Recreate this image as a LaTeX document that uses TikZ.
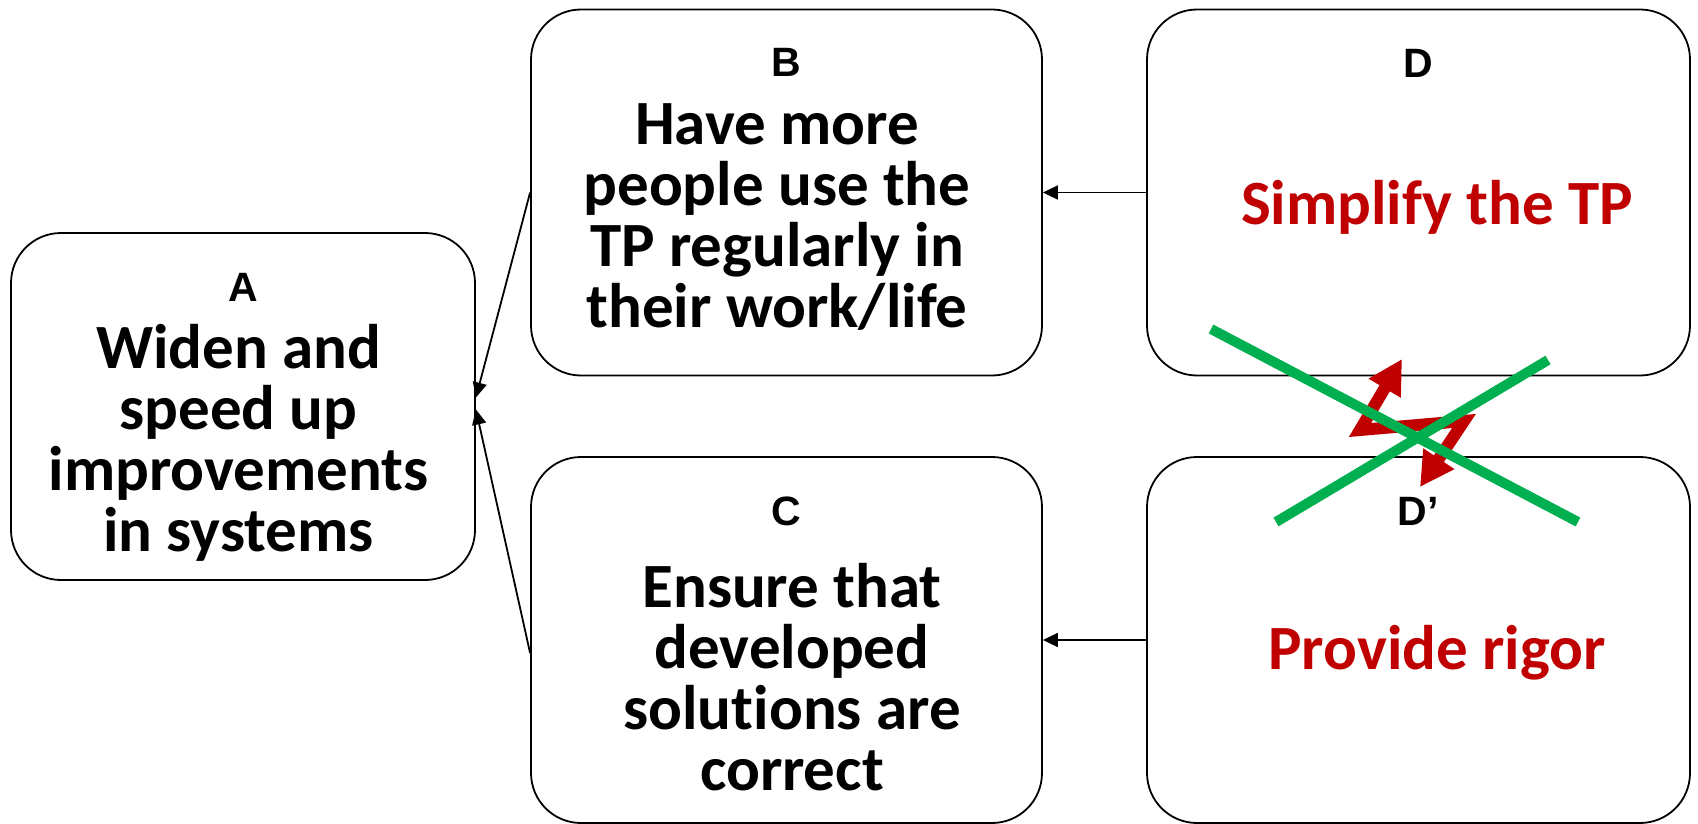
\documentclass[tikz,border=0pt]{standalone}
\usepackage{fontspec}
\setmainfont{Carlito}[Ligatures=NoCommon]
\newfontfamily\labelfont{Liberation Sans}
\usetikzlibrary{arrows.meta,calc}
\definecolor{conflictred}{HTML}{C00000}
\definecolor{crossgreen}{HTML}{00B050}
% invisible rule that fixes the height of the first line of a text block
\newcommand{\topstrut}{\rule{0pt}{50pt}}

\begin{document}
\begin{tikzpicture}[x=1pt,y=-1pt,
  box/.style={draw=black, line width=1.8pt, fill=white, rounded corners=50pt, inner sep=0pt},
  letter/.style={font=\labelfont\bfseries\fontsize{41}{41}\selectfont, anchor=base, inner sep=0pt},
  body/.style={font=\bfseries\fontsize{63}{61}\selectfont, align=center, anchor=north, inner sep=0pt},
  goal/.style={font=\bfseries\fontsize{63}{61}\selectfont, text=conflictred, anchor=base, inner sep=0pt},
  link/.style={line width=1.8pt, -{Triangle[length=15pt,width=14pt]}},
  conflict/.style={draw=conflictred, line width=12pt, line join=miter,
    {Triangle[length=34pt,width=35pt]}-{Triangle[length=34pt,width=35pt]}},
  cross/.style={draw=crossgreen, line width=10pt, line cap=butt}
]
\useasboundingbox (0,0) rectangle (1698,824);

% boxes
\node[box, minimum width=464pt, minimum height=347pt] (A)  at (243,406.5)  {};
\node[box, minimum width=511pt, minimum height=366pt] (B)  at (786.5,192.5) {};
\node[box, minimum width=511pt, minimum height=366pt] (C)  at (786.5,640)   {};
\node[box, minimum width=543pt, minimum height=366pt] (D)  at (1418.5,192.5) {};
\node[box, minimum width=543pt, minimum height=366pt] (Dp) at (1418.5,640)  {};

% box letters
\node[letter] (A-id)  at (243,301)  {A};
\node[letter] (B-id)  at (786,77)   {B};
\node[letter] (C-id)  at (786,525)  {C};
\node[letter] (D-id)  at (1418,78)  {D};
\node[letter] (Dp-id) at (1418,525) {D’};

% box texts
\node[body] (A-text) at (238.5,318) {\topstrut Widen and\\speed up\\improvements\\in systems};
\node[body] (B-text) at (777,94)    {\topstrut Have more\\people use the\\TP regularly in\\their work/life};
\node[body] (C-text) at (792,557)   {\topstrut Ensure that\\developed\\solutions are\\correct};
\node[goal] (D-text)  at (1437,224) {Simplify the TP};
\node[goal] (Dp-text) at (1437,669) {Provide rigor};

% necessity arrows
\draw[link] (D.west) -- (B.east);
\draw[link] (Dp.west) -- (C.east);
\draw[link] (B.west) -- ($(A.east)+(0,-9)$);
\draw[link] ($(C.west)+(0,13)$) -- ($(A.east)+(0,3)$);

% conflict between D and D'
\coordinate (zTop) at (1402,359);
\coordinate (zL)   at (1360,430);
\coordinate (zR)   at (1464,421);
\coordinate (zBot) at (1420,487);
\draw[conflict] (zTop) -- (zL) -- (zR) -- (zBot);

% crossing out the conflict
\coordinate (x1a) at (1211,329);
\coordinate (x1b) at (1578,522);
\coordinate (x2a) at (1276,522);
\coordinate (x2b) at (1548,360);
\draw[cross] (x1a) -- (x1b);
\draw[cross] (x2a) -- (x2b);
\end{tikzpicture}
\end{document}
